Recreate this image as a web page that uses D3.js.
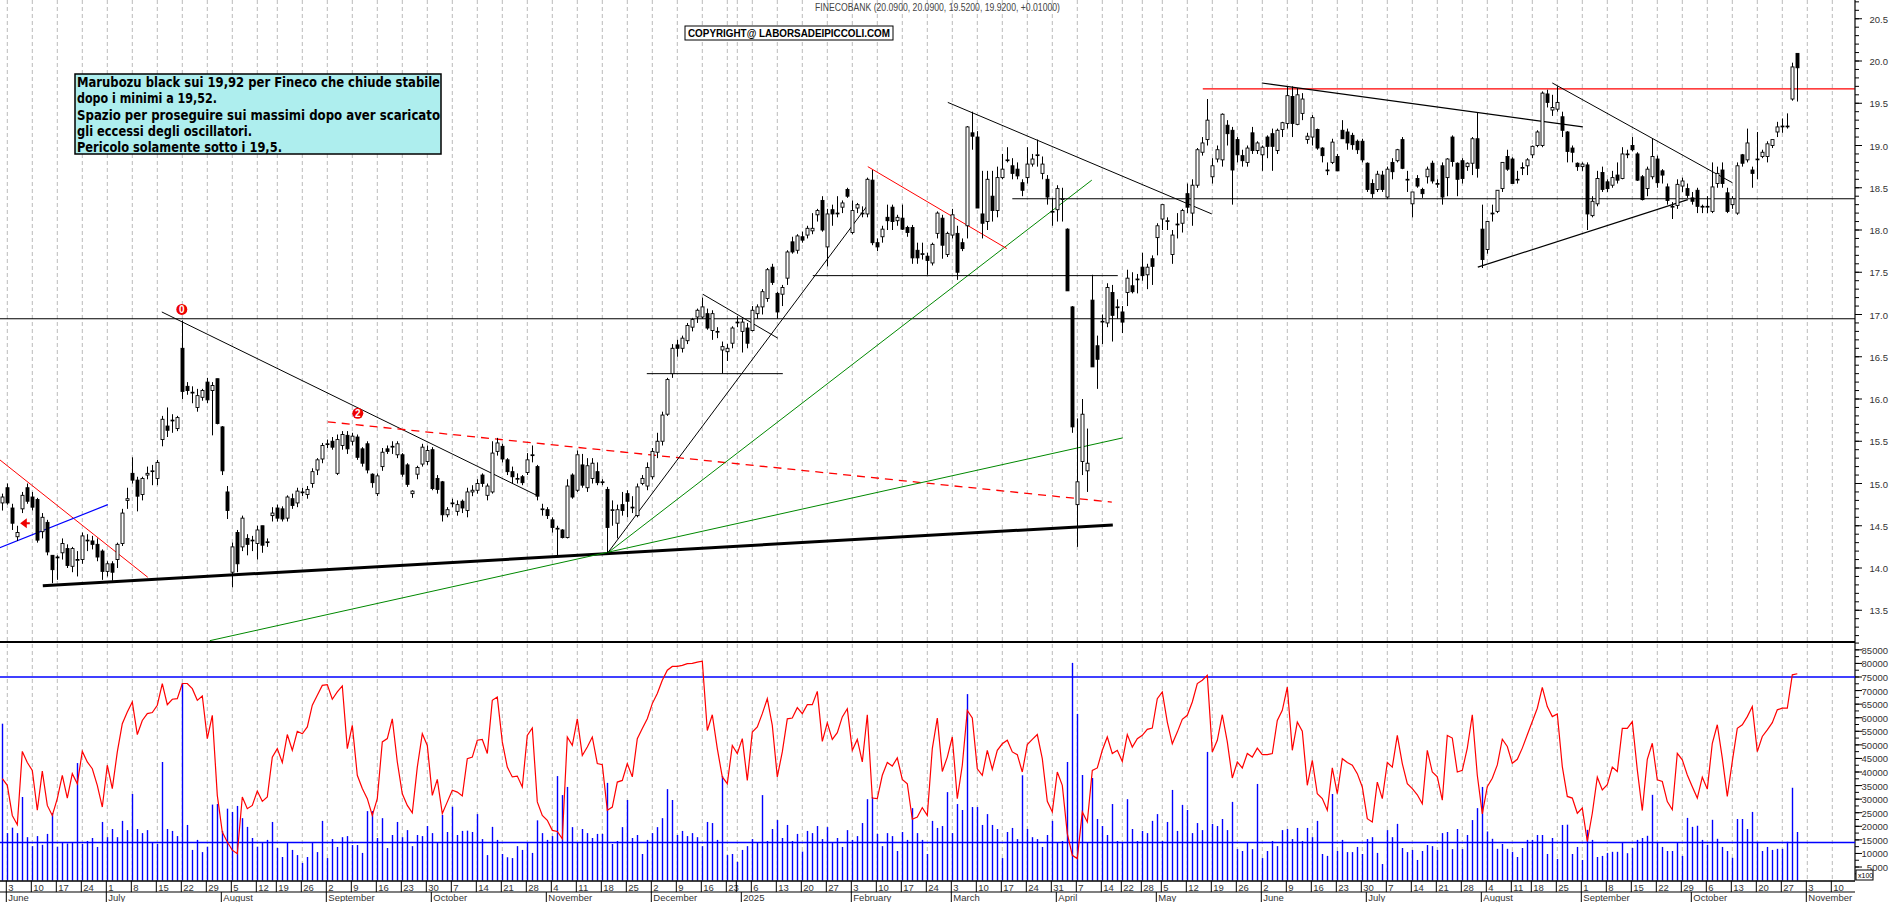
<!DOCTYPE html>
<html><head><meta charset="utf-8">
<script src="https://cdn.jsdelivr.net/npm/d3@7"></script>
<style>body{margin:0;background:#fff}svg{display:block}</style>
</head><body><svg id="c" width="1890" height="902"></svg>
<script>
// ---------------- DATA ----------------
const startDate = "2024-05-31";
const holidays = ["2024-08-15","2024-12-24","2024-12-25","2024-12-26","2024-12-31","2025-01-01","2025-04-18","2025-04-21","2025-05-01","2025-08-15"];
const axisEnd = "2025-11-14";
// daily candles [open, high, low, close]
const ohlc = [
[14.77,14.88,14.68,14.84],[14.95,15.0,14.75,14.77],[14.71,14.76,14.45,14.53],[14.37,14.5,14.32,14.42],[14.7,14.9,14.65,14.86],
[14.95,15.0,14.76,14.79],[14.84,14.9,14.68,14.72],[14.81,14.83,14.3,14.33],[14.43,14.65,14.35,14.6],[14.54,14.57,14.15,14.19],
[14.15,14.15,13.82,13.98],[14.12,14.15,13.86,14.13],[14.18,14.35,14.1,14.29],[14.23,14.28,14.0,14.03],[14.02,14.25,13.95,14.23],
[14.1,14.2,13.9,14.1],[14.1,14.42,14.05,14.38],[14.33,14.4,14.2,14.33],[14.32,14.38,14.22,14.28],[14.28,14.35,14.08,14.13],
[14.2,14.22,13.86,13.96],[13.96,14.08,13.9,14.05],[14.05,14.08,13.85,13.95],[14.1,14.3,14.0,14.28],[14.29,14.7,14.26,14.65],
[14.8,14.95,14.7,14.82],[15.12,15.31,15.0,15.04],[15.04,15.08,14.67,14.85],[14.87,15.08,14.8,15.06],[15.1,15.2,15.05,15.12],
[15.15,15.22,14.98,15.15],[15.06,15.28,14.98,15.25],[15.52,15.8,15.44,15.76],[15.68,15.9,15.55,15.63],[15.75,15.82,15.6,15.75],
[15.65,15.8,15.62,15.78],[16.6,16.93,16.0,16.09],[16.15,16.2,16.05,16.1],[16.08,16.15,15.95,16.08],[15.9,16.12,15.85,16.04],
[16.02,16.12,15.98,16.1],[16.2,16.25,15.95,15.99],[16.1,16.2,15.57,16.16],[16.24,16.24,15.7,15.71],[15.67,15.68,15.1,15.15],
[14.9,14.97,14.58,14.68],[13.95,14.3,13.77,14.25],[14.42,14.45,13.95,14.05],[14.25,14.62,14.2,14.59],[14.35,14.4,14.15,14.28],
[14.33,14.38,14.2,14.33],[14.29,14.5,14.1,14.45],[14.5,14.5,14.18,14.27],[14.31,14.35,14.25,14.31],[14.62,14.72,14.55,14.65],
[14.71,14.75,14.55,14.59],[14.7,14.73,14.55,14.58],[14.59,14.86,14.55,14.84],[14.82,14.88,14.7,14.74],[14.77,14.95,14.72,14.91],
[14.9,14.95,14.85,14.9],[14.87,14.97,14.82,14.93],[15.0,15.18,14.95,15.14],[15.16,15.3,15.1,15.28],[15.29,15.48,15.24,15.45],
[15.47,15.52,15.42,15.47],[15.5,15.55,15.4,15.43],[15.12,15.58,15.1,15.52],[15.45,15.62,15.4,15.58],[15.57,15.62,15.35,15.41],
[15.5,15.6,15.45,15.56],[15.55,15.58,15.28,15.31],[15.41,15.43,15.2,15.24],[15.47,15.5,15.12,15.16],[15.11,15.12,14.95,15.01],
[14.88,15.12,14.85,15.09],[15.2,15.42,15.15,15.37],[15.41,15.45,15.35,15.38],[15.44,15.5,15.35,15.44],[15.34,15.5,15.3,15.47],
[15.34,15.36,15.08,15.11],[15.22,15.24,14.96,14.99],[14.88,14.92,14.83,14.91],[15.11,15.21,15.05,15.19],[15.23,15.47,15.2,15.43],
[15.26,15.45,15.22,15.39],[15.4,15.43,14.92,14.94],[15.06,15.1,14.88,14.93],[15.02,15.03,14.55,14.63],[14.63,14.72,14.6,14.69],
[14.77,14.82,14.72,14.77],[14.67,14.8,14.62,14.75],[14.79,14.81,14.65,14.71],[14.68,14.95,14.6,14.9],[14.9,14.98,14.85,14.92],
[14.92,15.05,14.88,15.0],[15.1,15.12,14.96,15.0],[14.86,15.0,14.8,14.97],[14.9,15.5,14.88,15.36],[15.38,15.54,15.33,15.48],
[15.44,15.47,15.25,15.29],[15.28,15.3,15.1,15.14],[15.14,15.2,15.0,15.08],[15.06,15.12,15.0,15.06],[15.08,15.1,14.98,15.01],
[15.13,15.36,15.1,15.28],[15.33,15.45,15.25,15.34],[15.2,15.22,14.8,14.85],[14.7,14.76,14.62,14.7],[14.69,14.72,14.58,14.62],
[14.57,14.6,14.42,14.48],[14.47,14.5,14.15,14.47],[14.45,14.46,14.35,14.36],[14.36,15.05,14.35,14.97],[15.1,15.12,14.82,14.84],
[14.92,15.39,14.9,15.34],[15.22,15.35,14.95,14.98],[14.95,15.3,14.9,15.21],[15.06,15.3,15.0,15.24],[15.14,15.25,14.98,15.01],
[15.02,15.05,14.98,15.02],[14.93,14.96,14.18,14.48],[14.69,14.8,14.5,14.69],[14.53,14.75,14.35,14.69],[14.75,14.9,14.62,14.68],
[14.88,14.92,14.6,14.79],[14.72,14.85,14.65,14.72],[14.62,15.0,14.6,14.96],[15.0,15.1,14.98,15.06],[14.97,15.25,14.92,15.19],
[15.08,15.42,15.05,15.38],[15.37,15.6,15.3,15.5],[15.5,15.85,15.45,15.81],[15.82,16.25,15.8,16.23],[16.3,16.65,16.25,16.6],
[16.64,16.7,16.5,16.6],[16.6,16.75,16.55,16.72],[16.69,16.9,16.65,16.87],[16.85,16.96,16.8,16.94],[16.97,17.07,16.9,17.05],
[16.97,17.2,16.95,17.09],[17.01,17.07,16.82,16.84],[16.81,17.05,16.7,17.01],[16.8,16.85,16.72,16.8],[16.58,16.68,16.3,16.62],
[16.56,16.65,16.45,16.6],[16.66,16.86,16.6,16.84],[16.91,16.98,16.85,16.91],[16.8,16.95,16.55,16.91],[16.84,16.9,16.6,16.66],
[16.81,17.1,16.8,17.05],[17.01,17.12,16.95,17.09],[17.09,17.3,17.0,17.27],[17.19,17.55,17.15,17.53],[17.56,17.6,17.35,17.38],
[17.25,17.27,16.95,17.03],[17.24,17.35,17.1,17.32],[17.43,17.76,17.35,17.74],[17.86,17.92,17.72,17.74],[17.76,17.95,17.72,17.93],
[17.92,17.98,17.85,17.88],[17.94,18.05,17.9,18.02],[17.99,18.2,17.95,18.02],[18.18,18.25,18.1,18.23],[18.35,18.4,17.98,18.0],
[17.8,18.25,17.57,18.19],[18.24,18.3,18.05,18.19],[18.2,18.4,18.15,18.2],[18.27,18.35,18.2,18.32],[18.48,18.5,18.38,18.4],
[17.97,18.35,17.95,18.23],[18.26,18.32,18.2,18.3],[18.2,18.28,18.15,18.2],[18.19,18.62,18.15,18.6],[18.59,18.71,17.82,17.85],
[17.85,17.9,17.75,17.8],[17.92,18.05,17.85,18.01],[18.15,18.3,18.0,18.11],[18.27,18.3,18.0,18.1],[18.11,18.18,18.05,18.15],
[18.14,18.3,18.0,18.01],[18.03,18.05,17.92,17.97],[18.03,18.06,17.6,17.67],[17.76,17.85,17.6,17.67],[17.72,17.85,17.65,17.72],
[17.69,17.73,17.47,17.64],[17.61,17.85,17.58,17.83],[17.96,18.22,17.9,18.2],[18.14,18.18,17.66,17.82],[17.71,17.98,17.68,17.96],
[17.94,18.25,17.9,18.18],[17.96,18.05,17.41,17.5],[17.85,17.9,17.75,17.78],[18.05,19.23,17.9,19.22],[19.15,19.4,18.95,19.11],
[19.1,19.17,18.26,18.26],[18.19,18.7,17.9,18.08],[18.1,18.7,18.0,18.6],[18.4,18.7,18.1,18.23],[18.23,18.75,18.15,18.62],
[18.62,18.9,18.6,18.72],[18.83,18.98,18.8,18.83],[18.76,18.85,18.6,18.67],[18.72,18.8,18.6,18.64],[18.56,18.6,18.4,18.47],
[18.62,18.98,18.55,18.78],[18.78,18.9,18.75,18.84],[18.89,19.07,18.75,18.89],[18.67,18.87,18.6,18.78],[18.6,18.65,18.3,18.39],
[18.22,18.38,18.05,18.22],[18.24,18.53,18.1,18.49],[18.37,18.5,18.1,18.37],[18.01,18.02,17.28,17.28],[17.09,17.1,15.6,15.67],
[14.75,15.77,14.25,15.02],[15.26,16.0,15.1,15.82],[15.15,15.65,14.9,15.24],[17.17,17.47,16.38,16.38],[16.63,16.75,16.12,16.47],
[16.92,17.0,16.65,16.92],[16.9,17.37,16.85,17.32],[17.26,17.35,16.68,16.99],[17.09,17.18,16.95,17.09],[17.03,17.1,16.78,16.91],
[17.26,17.53,17.1,17.43],[17.34,17.5,17.25,17.27],[17.42,17.48,17.25,17.42],[17.56,17.73,17.4,17.46],[17.47,17.6,17.3,17.56],
[17.66,17.7,17.35,17.57],[17.91,18.08,17.7,18.05],[18.13,18.3,18.0,18.3],[18.11,18.15,18.0,18.11],[17.71,18.0,17.6,17.94],
[18.07,18.2,17.9,18.07],[18.08,18.25,17.97,18.23],[18.43,18.55,18.2,18.27],[18.2,18.6,18.05,18.53],[18.53,18.97,18.5,18.95],
[18.92,19.1,18.88,19.03],[19.07,19.55,19.0,19.3],[18.63,18.85,18.55,18.76],[18.84,19.0,18.8,18.95],[18.83,19.38,18.75,19.37],
[19.24,19.3,19.0,19.14],[19.18,19.22,18.3,18.71],[19.07,19.1,18.8,18.89],[18.88,18.95,18.75,18.82],[18.8,19.0,18.75,18.97],
[19.15,19.22,18.9,18.94],[18.94,19.05,18.9,19.03],[18.89,19.0,18.7,18.98],[19.1,19.12,18.85,18.99],[19.14,19.2,18.7,18.99],
[18.94,19.2,18.9,19.18],[19.19,19.28,19.1,19.27],[19.26,19.7,19.2,19.59],[19.58,19.7,19.1,19.26],[19.25,19.68,19.24,19.6],
[19.38,19.62,19.3,19.55],[19.07,19.15,19.02,19.11],[19.1,19.36,19.0,19.33],[19.19,19.2,18.95,18.97],[18.97,18.98,18.8,18.88],
[18.71,18.8,18.65,18.71],[18.8,19.08,18.78,19.04],[18.87,18.9,18.7,18.7],[19.18,19.3,19.08,19.08],[19.16,19.2,18.95,19.03],
[19.12,19.15,18.95,19.01],[19.05,19.07,18.9,18.95],[19.05,19.08,18.8,18.83],[18.79,18.8,18.45,18.48],[18.55,18.6,18.38,18.43],
[18.48,18.7,18.45,18.66],[18.65,18.7,18.45,18.48],[18.39,18.75,18.37,18.72],[18.8,18.85,18.6,18.69],[18.82,18.96,18.8,18.95],
[19.07,19.1,18.72,18.73],[18.6,18.7,18.45,18.6],[18.31,18.45,18.15,18.45],[18.61,18.65,18.5,18.52],[18.48,18.5,18.38,18.43],
[18.63,18.75,18.55,18.72],[18.79,18.82,18.55,18.58],[18.55,18.6,18.5,18.55],[18.76,18.8,18.3,18.39],[18.62,18.85,18.4,18.84],
[19.1,19.12,18.75,18.81],[18.79,18.8,18.4,18.6],[18.82,18.85,18.55,18.61],[18.75,18.8,18.7,18.79],[18.79,19.1,18.65,19.08],
[19.08,19.39,18.62,18.73],[18.01,18.3,17.55,17.65],[17.77,18.1,17.72,18.1],[18.2,18.3,18.1,18.2],[18.22,18.47,18.2,18.47],
[18.49,18.8,18.45,18.8],[18.87,18.95,18.7,18.72],[18.84,18.86,18.55,18.55],[18.6,18.7,18.55,18.6],[18.74,18.8,18.65,18.74],
[18.76,18.85,18.65,18.83],[18.89,19.0,18.85,18.99],[19.0,19.18,18.98,19.16],[19.0,19.64,18.98,19.62],[19.61,19.66,19.45,19.51],
[19.42,19.6,19.35,19.45],[19.43,19.7,19.4,19.51],[19.34,19.4,19.1,19.18],[19.16,19.17,18.8,18.93],[18.97,19.0,18.8,18.92],
[18.79,18.8,18.7,18.75],[18.75,18.8,18.7,18.78],[18.77,18.8,18.0,18.19],[18.17,18.4,18.15,18.34],[18.31,18.7,18.28,18.61],
[18.68,18.75,18.45,18.48],[18.57,18.6,18.45,18.49],[18.53,18.7,18.5,18.62],[18.65,18.8,18.55,18.59],[18.61,18.98,18.6,18.9],
[18.9,18.95,18.85,18.9],[19.0,19.1,18.93,18.95],[18.9,18.92,18.58,18.59],[18.63,18.65,18.35,18.36],[18.49,18.75,18.4,18.72],
[18.63,19.08,18.6,18.87],[18.84,18.88,18.5,18.56],[18.7,18.72,18.55,18.65],[18.51,18.55,18.3,18.35],[18.28,18.33,18.13,18.28],
[18.29,18.6,18.25,18.54],[18.52,18.62,18.45,18.58],[18.49,18.55,18.38,18.41],[18.38,18.45,18.3,18.34],[18.47,18.5,18.2,18.28],
[18.28,18.3,18.2,18.28],[18.28,18.4,18.2,18.28],[18.22,18.8,18.2,18.51],[18.55,18.75,18.5,18.67],[18.71,18.8,18.5,18.55],
[18.44,18.5,18.2,18.22],[18.3,18.4,18.25,18.37],[18.2,18.8,18.18,18.76],[18.89,18.9,18.75,18.79],[18.83,19.2,18.8,19.03],
[18.71,18.75,18.5,18.67],[18.84,19.16,18.6,18.84],[18.87,18.95,18.85,18.92],[18.87,19.05,18.8,19.02],[19.0,19.07,18.97,19.07],
[19.16,19.28,19.1,19.22],[19.23,19.32,19.15,19.23],[19.23,19.38,19.2,19.23],[19.55,19.98,19.53,19.93],[20.09,20.09,19.52,19.92]
];
// volume (thousands, axis shows value x100 shares)
const volume = [
57.8,17.5,19.5,17.5,30.8,16,12.7,16.4,13.2,17.2,24.9,12.5,14,13.7,14,43.3,13.5,14.6,15.7,12.4,
21.6,16,19,16,22,18.6,31.9,19,17.5,18.6,14,13.5,43.7,19,18.3,16.4,72.6,20.5,11.3,15,
10.5,12.5,28,28.2,18.3,26.5,25.3,27.5,23,19.8,15.7,12.5,14,15,21.6,12,8.7,14,11.3,9.4,
6.5,8.7,14,10.5,22,8.3,15.3,12.4,16,16.4,13.1,13.1,10.2,25.6,25.6,15.7,23,12,16.8,21.6,
16,18.6,12.7,16.8,16.4,20.1,17.5,14,24.2,17.9,27.2,16.8,18.3,18.4,17.9,24.5,15.3,9.4,19.8,15,
9.8,8.6,8.3,12.7,11.3,14.2,10.2,22.2,17.5,15,16.4,38.5,31.5,34.5,19.7,14.2,19,17.5,15.7,17.2,
17.2,36,13.5,14.6,19.7,29.7,15.7,16.8,9.8,15,17.5,19.7,23,33.7,29.7,16.8,18.3,16.4,17.5,16,
12.7,21.6,21.2,15,38.5,9.4,9.8,6.9,11.3,12.7,15.3,14.2,31.5,14.6,19,22.3,15.7,20.5,14.6,17.2,
10.7,18.3,17.5,20.1,15.3,19.7,14.2,15.7,12.4,18.6,15,16.4,21.2,30,30.8,17.2,12.7,17.5,16.4,10.9,
17.9,15,26.7,17.5,15,9.8,22,19.4,20.1,32.6,17.5,28.2,26,68.7,27.1,27.1,20.5,24.5,
20.5,19,8.3,17.9,19.4,15.3,38.8,19,16,15.3,12.4,16.8,22,14.2,14.6,43.7,80.2,61.4,38.9,14.2,
37.8,22.7,20.1,16.8,28.2,14.6,14.2,30,19,14.6,18.3,17.5,22,24.5,14.6,21.6,33.4,18.3,27.9,26,
17.5,21.2,18.6,47.4,20.9,20.1,22.7,18.6,29,11.6,10.9,14.2,11.6,35.6,8.3,10.9,14.6,12.7,18.6,19,
15.3,19.4,14.6,19.4,16,22,9.8,9.1,31.9,10.9,15,10.5,10.5,12.4,9.8,15.3,16,10.2,6.1,18.6,
16,20.9,12,10.5,11.3,7.6,10.9,13.1,12.7,11.3,17.5,17.9,11.6,19,11.6,16.8,22.3,26.7,34.5,
18.1,15.4,11.7,13.5,11.7,10.6,8.7,12,15,15,16.8,16.8,9.8,15.7,8,20.5,20.6,9.8,12.4,7.6,
18.7,15,8.7,9.1,10.2,10.6,10.6,14.1,10.1,12,15,15.7,16.5,31.6,13.9,12.4,10.9,10.9,13.9,9.1,
23.1,19.8,20.2,15,13.2,22.4,15.4,12.4,10.9,8.4,22.7,22.7,19,25.3,14.3,10.9,12.4,11.3,11.7,11.7,
14.3,34.2,17.9
];
// oscillator drawn in the volume panel (same scale)
const oscillator = [
37.6,35.1,24,20.6,47.6,43.5,40.6,25.9,40.3,27.7,24,30.2,38.8,30.4,39.4,35.7,47.6,43.7,41.2,35.1,
27.1,42.5,33.9,47.4,57.8,62.1,65.8,53.8,59,61.5,61.9,64.6,72.6,64.8,66.8,67,72.6,72.6,70.7,66.4,
68,52.3,60.9,31.4,17.9,14.2,11.2,9.9,30.8,26.5,27.7,33,29.2,30.8,45.5,48.6,43.5,53.8,48,55,
54.1,56.6,64.6,68.3,71.9,72.2,66.8,69.5,71.7,48.6,57.2,38.8,33.9,30.2,24,30.2,51.1,52.3,59.6,43.7,
32,27.7,25,41.8,54.1,49.8,31.4,37.3,24.7,29,33.3,32.6,31.2,44.9,45.5,51.7,52,46.8,66.4,67.6,
51.1,41.8,38.2,38.5,34.5,53.5,56.2,29,24,22.2,18.5,18.1,15.4,52.9,49.8,59.6,46.1,49.2,52.9,43.1,
42.7,25.9,27.1,36.3,36.9,43.1,38.2,52.3,56,59.6,65.2,68.9,73.8,77.5,78.9,78.9,79.3,79.9,80,80.5,
80.8,55.3,61.1,48.6,38.2,35.7,49.8,46.8,52.3,36.9,54.7,56.6,61.5,67,57.2,38.2,47.4,59.6,59.9,63.7,
61.5,64.8,64.8,69.7,51.3,58.1,52,54.5,60.3,63.3,48,52,43.7,61.1,30.4,30.2,38.8,43.5,42.2,45.2,
37.3,35.7,22.6,23.4,26.9,24,48.6,59.9,40.2,45.5,52.9,30.2,42.5,62.7,59.9,41.2,38.8,48,
41,48,50.4,51.7,47.4,46.4,40,50.1,52,53.8,44.9,29.2,25.3,40,35.1,17.3,9.3,8.1,25.3,21.6,
40.6,41.5,48,52.9,46.8,48,43.9,53.8,49.2,52.3,53.5,55.7,56.2,67,69.5,58.4,50.4,54.7,59.4,60.9,
65.8,72.6,73.8,75.6,47.4,51.7,61.1,51.1,37.8,43.7,41.5,46.8,45.5,48.8,46.4,46.4,46.8,59,62.7,71.3,
48,58.4,55,35.1,44.3,32,30.2,25.9,41.5,32,44.9,43.5,42.5,39.4,34.5,22.8,21.6,36.3,30.2,43.5,
41.8,53.5,43.1,35.7,33.9,31.6,28.3,48,40,38.2,29.6,53.5,52.5,40,40.6,48.8,61.1,38.8,24.6,
34.6,37.7,42.6,52.1,49.4,43.2,44.7,48.8,53.7,58.6,63.5,71.2,64.1,60.4,61.4,42,31,30.4,24.8,26.7,
14.4,24.8,38.1,33.4,35.3,41.8,40.2,56.1,56.1,58.6,40.8,25.8,44.7,50.6,37.1,36.5,29.1,26.1,46.9,44.5,
38.9,34.6,30.4,38.1,33.7,50.6,57.4,45.1,31,43.9,56.1,57.4,60.4,64.1,47.5,53.1,55.5,58.2,62.9,63.5,
63.5,75.8,76.2
];
const priceTicks = [13.5,14.0,14.5,15.0,15.5,16.0,16.5,17.0,17.5,18.0,18.5,19.0,19.5,20.0,20.5];
const volumeTicks = [5,10,15,20,25,30,35,40,45,50,55,60,65,70,75,80,85];
const volumeLevels = [75, 14];
const monthNames = ["January","February","March","April","May","June","July","August","September","October","November","December"];
// drawn studies: [k1, price1, k2, price2, colour, width, dash]
const trendLines = [
 [-0.5,15.28,29.1,13.89,"#f00",1,null],
 [-0.5,14.24,21.1,14.75,"#00f",1.2,null],
 [8.1,13.79,222.1,14.51,"#000",3,null],
 [31.9,17.03,106.9,14.86,"#000",1,null],
 [65.1,15.73,221.9,14.78,"#f00",1.3,"8,6"],
 [41.5,13.14,224.1,15.54,"#080",1,null],
 [121.1,14.18,217.9,18.59,"#080",1,null],
 [121.1,14.18,172.9,18.28,"#000",1,null],
 [128.9,16.30,156.1,16.30,"#000",1,null],
 [140.1,17.24,155.1,16.72,"#000",1,null],
 [173.1,18.75,200.9,17.78,"#f00",1,null],
 [162.1,17.46,223.1,17.46,"#000",1,null],
 [189.1,19.51,241.9,18.19,"#000",1,null],
 [202.0,18.37,370.5,18.37,"#000",1.2,null],
 [240.1,19.67,370.5,19.67,"#f00",1.3,null],
 [251.9,19.74,316.1,19.22,"#000",1.2,null],
 [310.0,19.74,346.0,18.56,"#000",1,null],
 [295.1,17.56,337.1,18.36,"#000",1.2,null]
];
const fullLines = [16.95];
const markers = [[35.9,17.06,"0"],[71.1,15.83,"2"]];
const noteLines = ["Marubozu black sui 19,92 per Fineco che chiude stabile","dopo i minimi a 19,52.","Spazio per proseguire sui massimi dopo aver scaricato","gli eccessi degli oscillatori.","Pericolo solamente sotto i 19,5."];
const headerText = "FINECOBANK (20.0900, 20.0900, 19.5200, 19.9200, +0.01000)";
const copyrightText = "COPYRIGHT@ LABORSADEIPICCOLI.COM";

// ---------------- CALENDAR ----------------
const parse = d3.utcParse("%Y-%m-%d"), fmt = d3.utcFormat("%Y-%m-%d");
const hol = new Set(holidays);
const days = [];
for (let d = parse(startDate); d <= parse(axisEnd); d = d3.utcDay.offset(d,1)) {
  const wd = d.getUTCDay();
  if (wd===0||wd===6||hol.has(fmt(d))) continue;
  days.push(d);
}

// ---------------- SCALES ----------------
const AX = 1855, PB = 642, VB = 880.6;
const x = d3.scaleLinear().domain([0,1]).range([2.3,7.3]);
const y = d3.scaleLinear().domain([14,20]).range([568,61]);
const yv = d3.scaleLinear().domain([0,75]).range([VB,677]);

const svg = d3.select("#c");
const font = "Liberation Sans, Arial, sans-serif";

// grid (week starts; the partial first week is not marked)
const weekStarts = [], monthStarts = [];
days.forEach((d,i)=>{
  const prev = days[i-1];
  if (!prev) return;
  if (d3.utcMonday.floor(d).getTime()!==d3.utcMonday.floor(prev).getTime()) weekStarts.push(i);
  if (d.getUTCMonth()!==prev.getUTCMonth()) monthStarts.push(i);
});
svg.append("g").selectAll("line").data(weekStarts).join("line")
  .attr("x1",i=>x(i)).attr("x2",i=>x(i)).attr("y1",0).attr("y2",VB)
  .attr("stroke","#bbb").attr("stroke-dasharray","4,3").attr("stroke-width",1);

// full-width horizontals
svg.append("g").selectAll("line").data(fullLines).join("line")
  .attr("x1",0).attr("x2",AX).attr("y1",d=>y(d)).attr("y2",d=>y(d)).attr("stroke","#000").attr("stroke-width",1.2);

// trend lines
svg.append("clipPath").attr("id","cp").append("rect").attr("x",0).attr("y",0).attr("width",AX).attr("height",PB);
svg.append("g").attr("clip-path","url(#cp)").selectAll("line").data(trendLines).join("line")
  .attr("x1",d=>x(d[0])).attr("y1",d=>y(d[1])).attr("x2",d=>x(d[2])).attr("y2",d=>y(d[3]))
  .attr("stroke",d=>d[4]).attr("stroke-width",d=>d[5]).attr("stroke-dasharray",d=>d[6]);

// candles
const cg = svg.append("g");
ohlc.forEach((c,i)=>{
  const [o,h,l,cl]=c, cx=Math.round(x(i))+0.5;
  cg.append("line").attr("x1",cx).attr("x2",cx).attr("y1",y(h)).attr("y2",y(l)).attr("stroke","#000").attr("stroke-width",1);
  const top=y(Math.max(o,cl)), bot=y(Math.min(o,cl));
  cg.append("rect").attr("x",cx-1.5).attr("y",top).attr("width",3).attr("height",Math.max(0.8,bot-top))
    .attr("fill",cl>=o?"#fff":"#000").attr("stroke","#000").attr("stroke-width",0.9);
});

// markers
const mg = svg.append("g").selectAll("g").data(markers).join("g").attr("transform",d=>`translate(${x(d[0])},${y(d[1])})`);
mg.append("circle").attr("r",5.5).attr("fill","#e00");
mg.append("text").text(d=>d[2]).attr("text-anchor","middle").attr("y",4).attr("fill","#fff").attr("font-family",font).attr("font-weight","bold").attr("font-size",10);
svg.append("path").attr("d",`M${x(3.9)},${y(14.53)} h8 M${x(3.9)},${y(14.53)} l4,-3 v6 z`).attr("stroke","#e00").attr("fill","#e00").attr("stroke-width",2);

// panel separator & axis line
svg.append("line").attr("x1",0).attr("x2",AX).attr("y1",PB).attr("y2",PB).attr("stroke","#000").attr("stroke-width",2);
svg.append("line").attr("x1",AX).attr("x2",AX).attr("y1",0).attr("y2",VB).attr("stroke","#000").attr("stroke-width",1.2);

// price axis
const pAxis = svg.append("g").attr("font-family",font).attr("font-size",9.5).attr("fill","#333");
d3.range(13.2,20.75,0.1).forEach(v=>{
  pAxis.append("line").attr("x1",AX).attr("x2",AX+4).attr("y1",y(v)).attr("y2",y(v)).attr("stroke","#000");
});
priceTicks.forEach(v=>{
  pAxis.append("line").attr("x1",AX).attr("x2",AX+7).attr("y1",y(v)).attr("y2",y(v)).attr("stroke","#000");
  pAxis.append("text").attr("x",1888).attr("text-anchor","end").attr("y",y(v)+4).text(v.toFixed(1));
});

// volume bars
svg.append("g").selectAll("line").data(volume).join("line")
  .attr("x1",(d,i)=>Math.round(x(i))+0.5).attr("x2",(d,i)=>Math.round(x(i))+0.5)
  .attr("y1",VB).attr("y2",d=>yv(d)).attr("stroke","#00f").attr("stroke-width",1.4);
svg.append("g").selectAll("line").data(volumeLevels).join("line")
  .attr("x1",0).attr("x2",AX).attr("y1",d=>yv(d)).attr("y2",d=>yv(d)).attr("stroke","#00f").attr("stroke-width",1.5);
svg.append("path").datum(oscillator)
  .attr("d",d3.line().x((d,i)=>x(i)).y(d=>yv(d))).attr("fill","none").attr("stroke","#f00").attr("stroke-width",1.2);

// volume axis
const vAxis = svg.append("g").attr("font-family",font).attr("font-size",9.5).attr("fill","#333");
d3.range(2.5,88,2.5).forEach(v=>vAxis.append("line").attr("x1",AX).attr("x2",AX+4).attr("y1",yv(v)).attr("y2",yv(v)).attr("stroke","#000"));
volumeTicks.forEach(v=>{
  vAxis.append("line").attr("x1",AX).attr("x2",AX+7).attr("y1",yv(v)).attr("y2",yv(v)).attr("stroke","#000");
  vAxis.append("text").attr("x",1888).attr("text-anchor","end").attr("y",yv(v)+4).text(v*1000);
});
svg.append("rect").attr("x",1856).attr("y",870).attr("width",17).attr("height",10).attr("fill","#fff").attr("stroke","#000");
svg.append("text").attr("x",1858).attr("y",878).text("x100").attr("font-family",font).attr("font-size",7);

// date axis
const dg = svg.append("g").attr("font-family",font).attr("fill","#333");
dg.append("line").attr("x1",0).attr("x2",AX).attr("y1",VB+0.5).attr("y2",VB+0.5).attr("stroke","#000").attr("stroke-width",1.5);
dg.append("line").attr("x1",0).attr("x2",AX).attr("y1",892).attr("y2",892).attr("stroke","#000").attr("stroke-width",1.2);
let lastLbl = -100;
weekStarts.forEach(i=>{
  dg.append("line").attr("x1",x(i)-1).attr("x2",x(i)-1).attr("y1",VB).attr("y2",892).attr("stroke","#000");
  if (x(i)-lastLbl < 14) return;
  lastLbl = x(i);
  dg.append("text").attr("x",x(i)+1).attr("y",890.5).attr("font-size",9.5).text(days[i].getUTCDate());
});
monthStarts.forEach(i=>{
  const m = days[i].getUTCMonth();
  dg.append("line").attr("x1",x(i)-1).attr("x2",x(i)-1).attr("y1",892).attr("y2",902).attr("stroke","#000");
  dg.append("text").attr("x",x(i)+1).attr("y",901).attr("font-size",9.5).text(m===0?days[i].getUTCFullYear():monthNames[m]);
});

// header & notes
svg.append("text").attr("x",815).attr("y",11).text(headerText).attr("font-family",font).attr("font-size",10).attr("fill","#444").attr("textLength",245).attr("lengthAdjust","spacingAndGlyphs");
svg.append("rect").attr("x",685).attr("y",26).attr("width",208).attr("height",14).attr("fill","#fff").attr("stroke","#000");
svg.append("text").attr("x",688).attr("y",37).text(copyrightText).attr("font-family",font).attr("font-weight","bold").attr("font-size",11).attr("textLength",202).attr("lengthAdjust","spacingAndGlyphs");
svg.append("rect").attr("x",75).attr("y",74).attr("width",366).attr("height",80).attr("fill","#aeeeee").attr("stroke","#000").attr("stroke-width",1.5);
const noteW = [363,140,363,175,205];
svg.append("g").selectAll("text").data(noteLines).join("text")
  .attr("x",77).attr("y",(d,i)=>87+i*16.3).text(d=>d)
  .attr("font-family","Liberation Sans Narrow, DejaVu Sans Condensed, sans-serif").attr("font-weight","bold").attr("font-size",14)
  .attr("textLength",(d,i)=>noteW[i]).attr("lengthAdjust","spacingAndGlyphs");
</script></body></html>
